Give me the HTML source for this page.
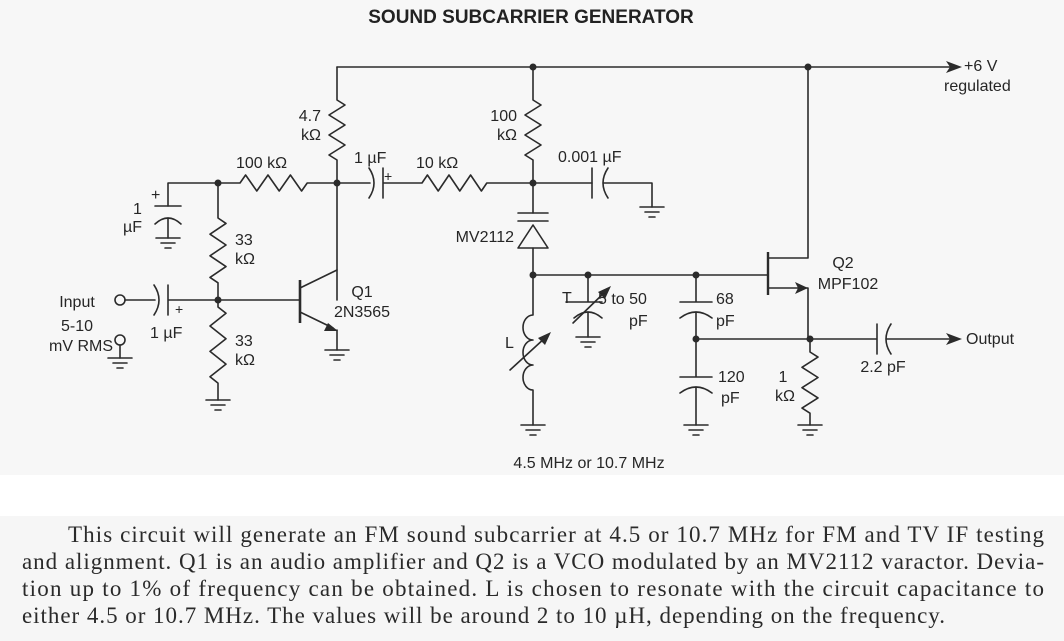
<!DOCTYPE html>
<html><head><meta charset="utf-8"><style>
html,body{margin:0;padding:0;width:1064px;height:641px;overflow:hidden;background:#fff}
svg{display:block}
.w{fill:none;stroke:#2b2b2b;stroke-width:1.6;stroke-linejoin:round;stroke-linecap:round}
.t{font-family:"Liberation Sans",sans-serif;font-size:16px;fill:#262626}
.p{font-family:"Liberation Serif",serif;font-size:23px;fill:#2a2a2a}
</style></head><body>
<svg width="1064" height="641" viewBox="0 0 1064 641" xmlns="http://www.w3.org/2000/svg">
<defs>
<g id="gnd" class="w"><path d="M-12 0H12M-7 5H7M-3 10H3"/></g>
</defs>
<rect x="0" y="0" width="1064" height="475" fill="#f7f7f7"/>
<rect x="0" y="516" width="1064" height="125" fill="#f6f6f6"/>
<text x="531" y="23" text-anchor="middle" style="font-family:'Liberation Sans',sans-serif;font-weight:bold;font-size:19px;fill:#222">SOUND SUBCARRIER GENERATOR</text>

<path class="w" d="M337 67H950 M808 67V258H768 M768 288H808V339"/>
<polygon points="962,67 946,61 950,67 946,73" fill="#2b2b2b"/>
<text class="t" x="964" y="71">+6 V</text>
<text class="t" x="944" y="91">regulated</text>

<path class="w" d="M337 67V100 l8 5 l-16 10 l16 10 l-16 10 l16 10 l-16 10 l8 5 V300"/>
<text class="t" x="321" y="121" text-anchor="end">4.7</text>
<text class="t" x="321" y="140" text-anchor="end">kΩ</text>
<path class="w" d="M533 67V100 l8 5 l-16 10 l16 10 l-16 10 l16 10 l-16 10 l8 5 V213"/>
<text class="t" x="517" y="121" text-anchor="end">100</text>
<text class="t" x="517" y="140" text-anchor="end">kΩ</text>

<path class="w" d="M168 206V183H240 l5.6 -8 l11.2 16 l11.2 -16 l11.2 16 l11.2 -16 l11.2 16 l5.6 -8 H370"/>
<text class="t" x="236" y="168">100 kΩ</text>
<path class="w" d="M155 206H181 M155 224Q168 212 181 224 M168 218V238"/>
<use href="#gnd" x="168" y="238"/>
<text class="t" x="151" y="200">+</text>
<text class="t" x="133" y="214">1</text>
<text class="t" x="123" y="232">µF</text>

<path class="w" d="M369 168Q379 183 369 198 M383 168V198 M383 183H422 l5.4 -8 l10.8 16 l10.8 -16 l10.8 16 l10.8 -16 l10.8 16 l5.4 -8 H592"/>
<text class="t" x="384" y="181" style="font-size:14px">+</text>
<text class="t" x="354" y="163">1 µF</text>
<text class="t" x="416" y="168">10 kΩ</text>
<path class="w" d="M592 168V198 M608 168Q598 183 608 198 M603 183H652V207"/>
<use href="#gnd" x="652" y="207"/>
<text class="t" x="558" y="162">0.001 µF</text>

<path class="w" d="M518 213H548 M518 221H548 M533 248V275 M533 275H767"/>
<polygon class="w" points="533,225 518,248 548,248"/>
<text class="t" x="514" y="242" text-anchor="end">MV2112</text>

<path class="w" d="M533 275V315 a10 12.5 0 0 0 0 25 a10 12.5 0 0 0 0 25 a10 12.5 0 0 0 0 25 V425"/>
<use href="#gnd" x="533" y="425"/>
<path class="w" d="M510 370L546 337"/>
<polygon points="551,332 538,338 545,345" fill="#2b2b2b"/>
<text class="t" x="505" y="348">L</text>

<path class="w" d="M588 275V302 M574 302H602 M574 318Q588 306 602 318 M588 312V337 M574 302H566"/>
<use href="#gnd" x="588" y="337"/>
<path class="w" d="M573 323L606 291"/>
<polygon points="611,286 598,292 605,299" fill="#2b2b2b"/>
<text class="t" x="562" y="303">T</text>
<text class="t" x="598" y="304">5 to 50</text>
<text class="t" x="629" y="326">pF</text>

<path class="w" d="M696 275V302 M680 302H712 M680 318Q696 306 712 318 M696 312V377 M680 377H712 M680 393Q696 381 712 393 M696 387V425 M696 339H810"/>
<use href="#gnd" x="696" y="425"/>
<text class="t" x="716" y="304">68</text>
<text class="t" x="716" y="326">pF</text>
<text class="t" x="718" y="382">120</text>
<text class="t" x="721" y="403">pF</text>

<path d="M768 252V295" stroke="#2b2b2b" stroke-width="2.4"/>
<polygon points="808,288 795,282 798,288 795,294" fill="#2b2b2b"/>
<text class="t" x="843" y="268" text-anchor="middle">Q2</text>
<text class="t" x="848" y="289" text-anchor="middle">MPF102</text>

<path class="w" d="M810 339V352 l8 5.1 l-16 10.2 l16 10.2 l-16 10.2 l16 10.2 l-16 10.2 l8 5.1 V425"/>
<use href="#gnd" x="810" y="425"/>
<text class="t" x="783" y="382" text-anchor="middle">1</text>
<text class="t" x="785" y="401" text-anchor="middle">kΩ</text>

<path class="w" d="M810 339H877 M877 324V354 M891 324Q881 339 891 354 M886 339H950"/>
<polygon points="962,339 946,333 950,339 946,345" fill="#2b2b2b"/>
<text class="t" x="966" y="344">Output</text>
<text class="t" x="883" y="372" text-anchor="middle">2.2 pF</text>

<path class="w" d="M218 183V218 l8 5.4 l-16 10.8 l16 10.8 l-16 10.8 l16 10.8 l-16 10.8 l8 5.4 V307 l8 6.3 l-16 12.7 l16 12.7 l-16 12.7 l16 12.7 l-16 12.7 l8 6.3 V400"/>
<use href="#gnd" x="218" y="400"/>
<text class="t" x="235" y="245">33</text>
<text class="t" x="235" y="264">kΩ</text>
<text class="t" x="235" y="346">33</text>
<text class="t" x="235" y="365">kΩ</text>

<circle cx="120" cy="300" r="5" class="w"/>
<path class="w" d="M125 300H155 M154 285Q164 300 154 315 M168 285V315 M168 300H300"/>
<text class="t" x="175" y="314" style="font-size:14px">+</text>
<text class="t" x="150" y="338">1 µF</text>
<circle cx="120" cy="340" r="5" class="w"/>
<path class="w" d="M120 345V358"/>
<use href="#gnd" x="120" y="358"/>
<text class="t" x="77" y="307" text-anchor="middle">Input</text>
<text class="t" x="77" y="331" text-anchor="middle">5-10</text>
<text class="t" x="113" y="351" text-anchor="end">mV RMS</text>

<path d="M300 280V323" stroke="#2b2b2b" stroke-width="2.6"/>
<path class="w" d="M300 288L337 270 M300 312L333 328 M337 330V350"/>
<polygon points="338,331 324,331 328,323" fill="#2b2b2b"/>
<use href="#gnd" x="337" y="350"/>
<text class="t" x="362" y="297" text-anchor="middle">Q1</text>
<text class="t" x="362" y="317" text-anchor="middle">2N3565</text>

<g fill="#2b2b2b">
<circle cx="533" cy="67" r="3.5"/><circle cx="808" cy="67" r="3.5"/>
<circle cx="218" cy="183" r="3.5"/><circle cx="337" cy="183" r="3.5"/><circle cx="533" cy="183" r="3.5"/>
<circle cx="218" cy="300" r="3.5"/>
<circle cx="533" cy="275" r="3.5"/><circle cx="588" cy="275" r="3.5"/><circle cx="696" cy="275" r="3.5"/>
<circle cx="696" cy="339" r="3.5"/><circle cx="810" cy="339" r="3.5"/>
</g>

<text class="t" x="589" y="468" text-anchor="middle">4.5 MHz or 10.7 MHz</text>

<text class="p" x="68" y="542" textLength="976" lengthAdjust="spacing">This circuit will generate an FM sound subcarrier at 4.5 or 10.7 MHz for FM and TV IF testing</text>
<text class="p" x="22" y="569" textLength="1022" lengthAdjust="spacing">and alignment. Q1 is an audio amplifier and Q2 is a VCO modulated by an MV2112 varactor. Devia-</text>
<text class="p" x="22" y="596" textLength="1022" lengthAdjust="spacing">tion up to 1% of frequency can be obtained. L is chosen to resonate with the circuit capacitance to</text>
<text class="p" x="22" y="623" textLength="923" lengthAdjust="spacing">either 4.5 or 10.7 MHz. The values will be around 2 to 10 µH, depending on the frequency.</text>
</svg>
</body></html>
